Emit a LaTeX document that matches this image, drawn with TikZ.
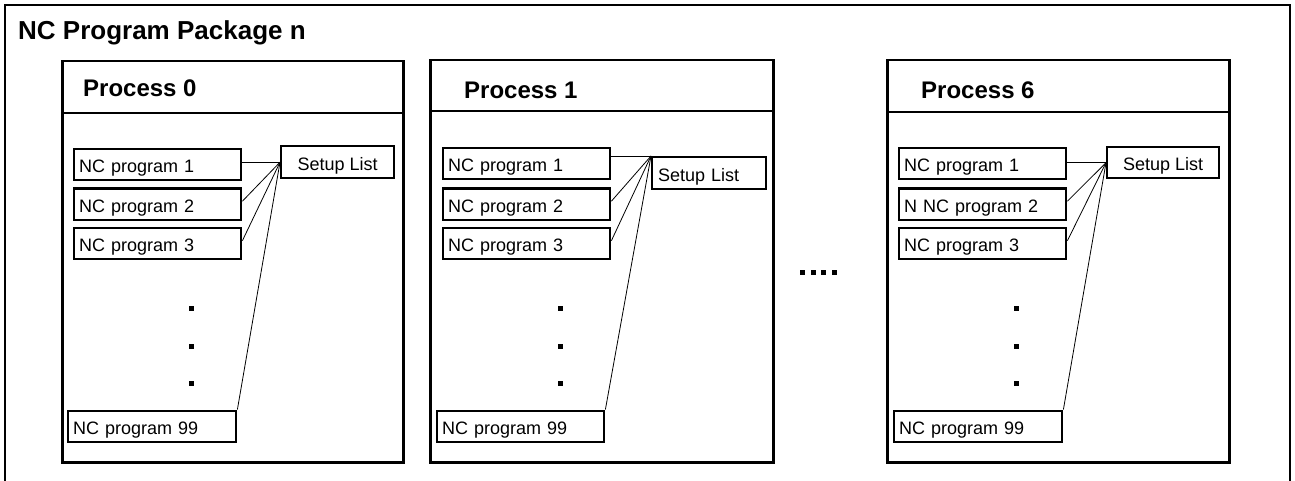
\documentclass[tikz,border=0pt]{standalone}
\usepackage{fontspec}
\setmainfont{Liberation Sans}
\begin{document}
\begin{tikzpicture}[x=1pt,y=-1pt,
  frame/.style={line width=2pt},
  procbox/.style={draw, line width=2.5pt, anchor=north west, inner sep=0pt},
  divider/.style={line width=2.4pt},
  ncbox/.style={draw, line width=2.4pt, anchor=north west, minimum height=31pt,
    text width=157pt, inner xsep=5pt, inner ysep=0pt, align=left,
    text height=16pt, text depth=0pt, font=\fontsize{18}{20}\selectfont},
  setupc/.style={draw, line width=2.4pt, anchor=north west, minimum height=32pt,
    minimum width=113pt, inner xsep=0pt, inner ysep=0pt,
    text height=16pt, text depth=0pt, font=\fontsize{18}{20}\selectfont},
  setupl/.style={draw, line width=2.4pt, anchor=north west, minimum height=32pt,
    text width=102pt, inner xsep=6pt, inner ysep=0pt, align=left,
    text height=16pt, text depth=0pt, font=\fontsize{18}{20}\selectfont},
  link/.style={line width=0.8pt},
  ptitle/.style={anchor=base west, inner sep=0pt, font=\bfseries\fontsize{24}{28}\selectfont},
  mtitle/.style={anchor=base west, inner sep=0pt, font=\bfseries\fontsize{26}{30}\selectfont},
  vdot/.style={fill=black, minimum size=5pt, inner sep=0pt}
]
\useasboundingbox (0,0) rectangle (1295,481);

% package frame (open at the bottom)
\draw[frame] (4.5,481) -- (4.5,5) -- (1290,5) -- (1290,481);
\node[mtitle] (pkg) at (18,39.3) {NC Program Package n};

% ---------- Process 0 ----------
\node[procbox, minimum width=341pt, minimum height=401pt] (p0) at (61,60) {};
\draw[divider] (61,113) -- (402,113);
\node[ptitle] (t0) at (83,96.7) {Process 0};
\node[ncbox] (a1) at (73,148) {NC program 1};
\node[ncbox] (a2) at (73,187.5) {NC program 2};
\node[ncbox] (a3) at (73,227) {NC program 3};
\node[ncbox, text width=158pt] (a99) at (67,409.5) {NC program 99};
\node[setupc] (s0) at (280,145) {Setup List};
\foreach \y in {308,346,383} \node[vdot] at (191,\y) {};
\draw[link] (s0.west -| a1.east) -- (s0.west);
\draw[link] ([yshift=3pt]a2.east) -- (s0.west);
\draw[link] ([yshift=3pt]a3.east) -- (s0.west);
\draw[link] (a99.north east) -- (s0.west);

% ---------- Process 1 ----------
\node[procbox, minimum width=343pt, minimum height=402pt] (p1) at (429,59) {};
\draw[divider] (429,111) -- (772,111);
\node[ptitle] (t1) at (464,98.3) {Process 1};
\node[ncbox] (b1) at (442,147) {NC program 1};
\node[ncbox] (b2) at (442,187.5) {NC program 2};
\node[ncbox] (b3) at (442,227) {NC program 3};
\node[ncbox] (b99) at (436,409.5) {NC program 99};
\node[setupl] (s1) at (651,156) {Setup List};
\foreach \y in {308,346,383} \node[vdot] at (560,\y) {};
\draw[link] (s1.north west -| b1.east) -- (s1.north west);
\draw[link] ([yshift=3pt]b2.east) -- (s1.north west);
\draw[link] ([yshift=3pt]b3.east) -- (s1.north west);
\draw[link] (b99.north east) -- (s1.north west);

% ellipsis between the processes
\foreach \x in {802.5,813,823.5,834} \node[vdot] at (\x,272) {};

% ---------- Process 6 ----------
\node[procbox, minimum width=342pt, minimum height=402pt] (p6) at (886,59) {};
\draw[divider] (886,112) -- (1228,112);
\node[ptitle] (t6) at (921,99) {Process 6};
\node[ncbox] (c1) at (898,147) {NC program 1};
\node[ncbox] (c2) at (898,187.5) {N NC program 2};
\node[ncbox] (c3) at (898,227) {NC program 3};
\node[ncbox, text width=158pt] (c99) at (893,409.5) {NC program 99};
\node[setupc, minimum width=112pt, minimum height=31pt] (s6) at (1106,146) {Setup List};
\foreach \y in {308,346,383} \node[vdot] at (1016,\y) {};
\draw[link] (s6.west -| c1.east) -- (s6.west);
\draw[link] ([yshift=3pt]c2.east) -- (s6.west);
\draw[link] ([yshift=3pt]c3.east) -- (s6.west);
\draw[link] (c99.north east) -- (s6.west);
\end{tikzpicture}
\end{document}
